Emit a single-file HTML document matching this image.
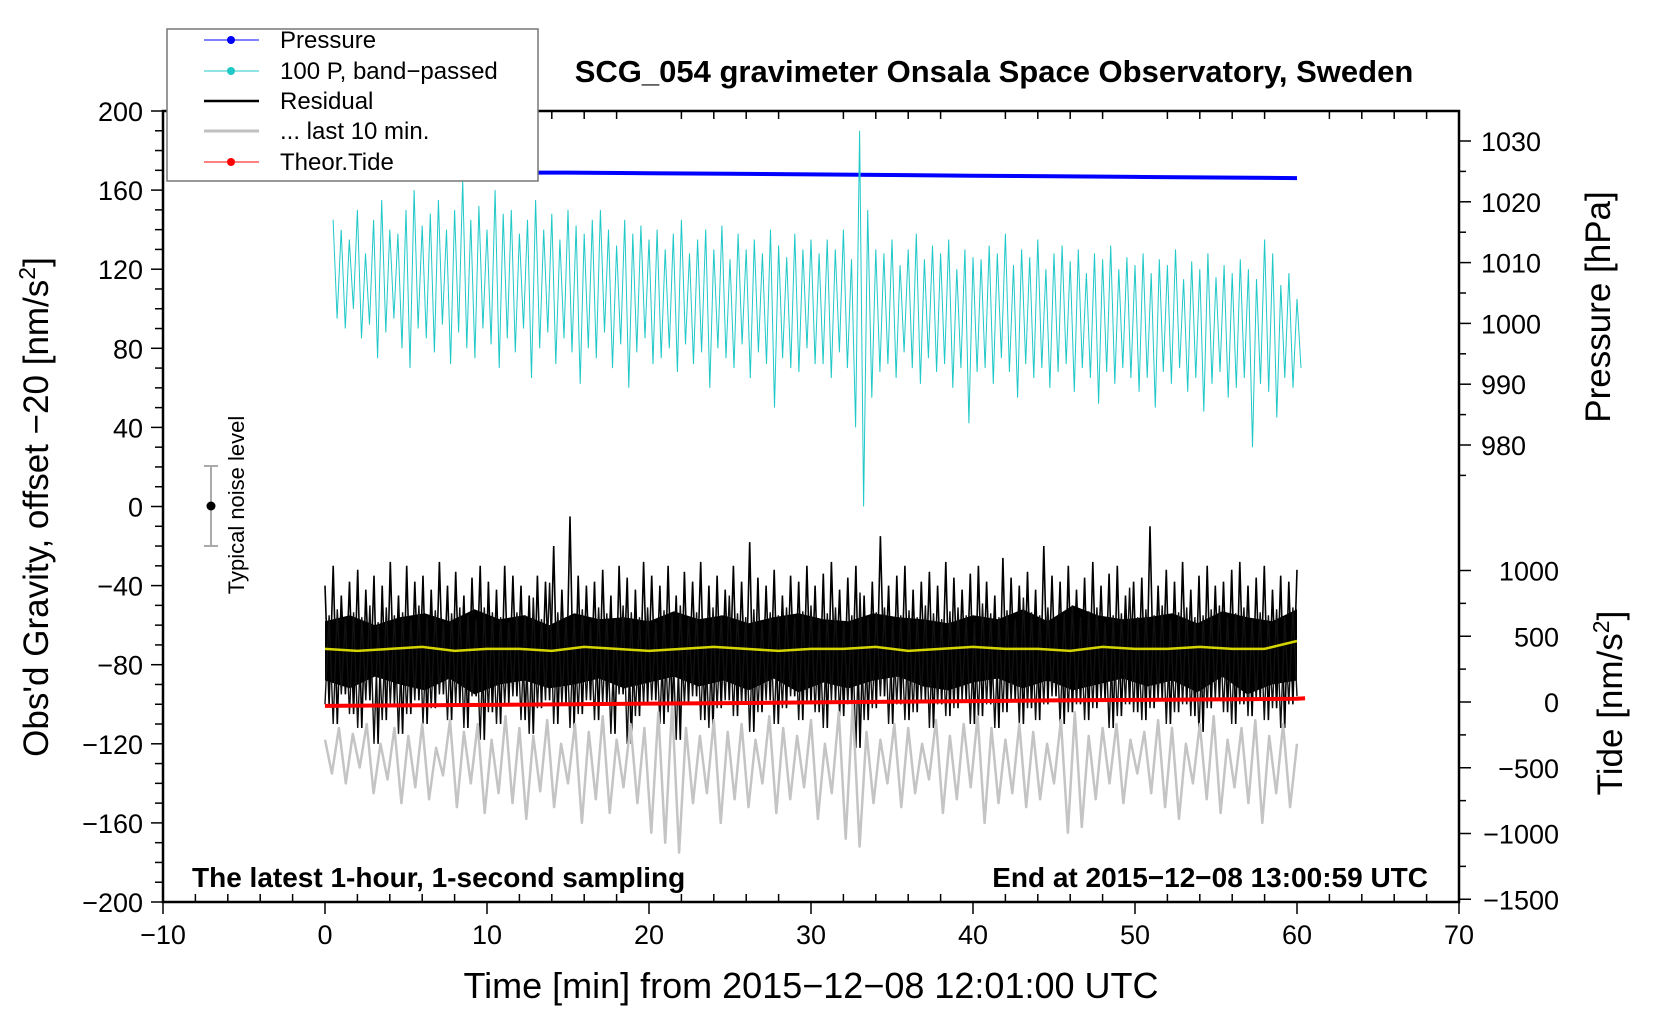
<!DOCTYPE html>
<html><head><meta charset="utf-8">
<style>
html,body{margin:0;padding:0;background:#fff;}
svg{display:block;font-family:"Liberation Sans",sans-serif;}
</style></head>
<body>
<svg id="chart" width="1660" height="1020" viewBox="0 0 1660 1020">
</svg>
<script>
// ---- data ----
const xTicks = [-10,0,10,20,30,40,50,60,70];
const yTicks = [-200,-160,-120,-80,-40,0,40,80,120,160,200];
const pTicks = [980,990,1000,1010,1020,1030];
const tideTicks = [-1500,-1000,-500,0,500,1000];
const pressureTimes = [0,5,10,15,20,25,30,35,40,45,50,55,60];
const pressureVals = [1025.0,1024.9,1024.8,1024.8,1024.7,1024.6,1024.5,1024.4,1024.3,1024.2,1024.1,1024.0,1023.9];
const cyanHi = [145,140,135,150,128,145,155,140,138,150,160,142,148,155,140,150,165,145,152,140,
160,148,150,138,145,155,140,148,135,150,142,138,145,150,140,132,145,138,142,135,
140,130,138,145,128,135,140,130,142,125,138,130,135,128,140,132,126,138,130,135,
128,135,130,140,125,190,150,130,128,135,122,130,138,125,132,128,135,120,130,126,
125,132,128,138,122,130,126,135,120,128,132,124,130,118,128,125,132,120,126,122,
128,118,125,122,130,115,124,120,128,116,122,118,125,120,115,135,128,112,118,105];
const cyanLo = [95,90,100,85,92,75,88,95,80,70,90,85,78,92,72,88,80,75,90,82,
70,85,78,90,65,80,88,72,85,78,62,80,75,88,70,82,60,78,85,72,
75,80,68,82,72,78,60,80,75,70,82,65,78,72,50,75,70,68,80,72,
72,65,78,70,40,0,55,68,72,65,78,70,62,75,68,72,60,70,42,68,
70,62,75,68,55,72,65,70,60,68,72,58,70,65,52,68,62,70,65,58,
65,50,68,62,70,58,65,48,62,68,55,60,65,30,62,58,45,65,60,70];
const blackHi = [-40,-30,-45,-38,-32,-42,-35,-40,-28,-45,-30,-38,-35,-42,-28,-40,-33,-45,-36,-30,
-38,-42,-30,-35,-40,-45,-35,-38,-20,-42,-5,-35,-40,-38,-32,-45,-30,-36,-42,-28,
-35,-40,-30,-45,-33,-38,-28,-40,-35,-42,-30,-38,-18,-36,-40,-32,-45,-35,-38,-30,
-40,-34,-28,-42,-36,-30,-45,-38,-15,-40,-35,-30,-42,-38,-33,-40,-28,-36,-42,-34,
-30,-38,-45,-26,-36,-40,-33,-42,-20,-35,-38,-30,-42,-36,-28,-40,-34,-30,-45,-38,
-36,-10,-40,-32,-38,-28,-42,-35,-30,-40,-38,-32,-28,-40,-36,-30,-42,-35,-38,-32];
const blackLo = [-100,-110,-95,-105,-112,-98,-120,-108,-100,-115,-105,-98,-110,-102,-95,-108,-100,-112,-96,-118,
-104,-110,-100,-96,-108,-115,-102,-98,-110,-100,-112,-105,-98,-108,-100,-115,-95,-120,-106,-100,
-98,-110,-104,-118,-100,-96,-108,-112,-102,-98,-106,-100,-114,-104,-98,-110,-102,-96,-108,-100,
-104,-112,-98,-106,-100,-122,-108,-102,-96,-110,-100,-108,-104,-98,-112,-100,-106,-102,-98,-110,
-106,-100,-112,-104,-98,-110,-102,-108,-100,-96,-110,-104,-100,-108,-102,-98,-112,-106,-100,-104,
-108,-102,-98,-110,-104,-100,-106,-114,-102,-98,-104,-110,-100,-106,-98,-108,-102,-112,-100,-96];
const blackCoreHi = [-58,-55,-60,-56,-54,-58,-52,-57,-55,-60,-54,-57,-56,-58,-53,-57,-55,-59,-56,-54,
-57,-58,-54,-56,-57,-59,-55,-57,-52,-58,-50,-55,-57,-56,-54,-59,-53,-56,-58,-52];
const blackCoreLo = [-88,-92,-86,-90,-93,-87,-95,-90,-88,-92,-90,-87,-92,-89,-86,-91,-88,-93,-87,-94,
-89,-92,-88,-86,-91,-93,-89,-87,-92,-88,-93,-90,-87,-91,-88,-94,-86,-95,-90,-88];
const yellowVals = [-72,-73,-72,-71,-73,-72,-72,-73,-71,-72,-73,-72,-71,-72,-73,-72,-72,-71,-73,-72,
-71,-72,-72,-73,-71,-72,-72,-71,-72,-72,-68];
const tideTimes = [0,5,10,15,20,25,30,35,40,45,50,55,60,60.5];
const tideVals = [-30,-26,-22,-17,-12,-8,-3,2,7,12,16,20,24,28];
const greyVals = [-118,-135,-112,-140,-115,-132,-110,-145,-120,-138,-112,-150,-116,-142,-110,-148,-122,-136,-108,-152,
-114,-140,-110,-155,-118,-145,-106,-150,-112,-158,-116,-144,-108,-152,-120,-140,-110,-160,-114,-148,
-106,-155,-118,-142,-110,-150,-112,-165,-104,-170,-100,-175,-112,-150,-116,-145,-108,-160,-114,-148,
-110,-152,-118,-140,-106,-155,-112,-148,-116,-142,-108,-158,-120,-145,-104,-168,-100,-172,-114,-150,
-118,-140,-110,-152,-112,-145,-120,-138,-108,-155,-116,-148,-110,-142,-106,-160,-112,-150,-118,-145,
-110,-152,-114,-148,-120,-140,-108,-165,-104,-162,-116,-148,-112,-140,-110,-150,-118,-135,-114,-145,
-108,-152,-112,-158,-120,-140,-110,-148,-106,-155,-118,-142,-112,-150,-108,-160,-116,-145,-110,-152,-120];

// ---- axes ----
const L=163,R=1459,T=111,B=902;
const X=t=>L+(t+10)/80*(R-L);
const Y=v=>T+(200-v)/400*(B-T);
const YP=p=>141+(1030-p)*6.08;
const YT=g=>702-g*0.1315;
const NS='http://www.w3.org/2000/svg';
const svg=document.getElementById('chart');
function mk(tag,attrs,parent){const e=document.createElementNS(NS,tag);for(const k in attrs)e.setAttribute(k,attrs[k]);(parent||svg).appendChild(e);return e;}
function txt(s,attrs,parent){const e=mk('text',attrs,parent);e.textContent=s;return e;}
function pl(pts){return pts.map(p=>p[0].toFixed(1)+','+p[1].toFixed(1)).join(' ');}

const dataG=mk('g',{});



// pressure
const pp=pressureTimes.map((t,i)=>[X(t),YP(pressureVals[i])]);
const pLine=mk('polyline',{points:pl(pp),fill:'none',stroke:'#0000ff','stroke-width':4},dataG);



// cyan band-passed
const cp=[];const nC=cyanHi.length;
for(let i=0;i<nC;i++){const t=0.5+i*(59.5/(nC-1));cp.push([X(t),Y(cyanHi[i])]);cp.push([X(t+0.25),Y(cyanLo[i])]);}
const cLine=mk('polyline',{points:pl(cp),fill:'none',stroke:'#20c8c8','stroke-width':1},dataG);



// residual black
const nB=blackHi.length;
const envTop=[],envBot=[];
for(let i=0;i<nB;i++){const t=i*(60/(nB-1));envTop.push([X(t),Y(blackHi[i])]);envBot.push([X(t),Y(blackLo[i])]);}
const nK=blackCoreHi.length;const ct=[],cb=[];
for(let i=0;i<nK;i++){const t=i*(60/(nK-1));ct.push([X(t),Y(blackCoreHi[i])]);cb.push([X(t),Y(blackCoreLo[i])]);}
const core=mk('polygon',{points:pl(ct.concat(cb.slice().reverse())),fill:'#000'},dataG);


const zz=[];for(let i=0;i<nB;i++){zz.push(envTop[i]);if(i<nB-1){zz.push([(envTop[i][0]+envTop[i+1][0])/2,envBot[i][1]]);}}
const bLine=mk('polyline',{points:pl(zz),fill:'none',stroke:'#000','stroke-width':1.6},dataG);


const zz2=[];for(let i=0;i<nB;i++){zz2.push(envBot[i]);if(i<nB-1){zz2.push([(envTop[i][0]+envTop[i+1][0])/2,envTop[(i+3)%nB][1]*0.5+Y(-72)*0.5]);}}
const bLine2=mk('polyline',{points:pl(zz2),fill:'none',stroke:'#111','stroke-width':1.4},dataG);



// grey last 10 min
const gp=greyVals.map((v,i)=>[X(i*60/(greyVals.length-1)),Y(v)]);
const gLine=mk('polyline',{points:pl(gp),fill:'none',stroke:'#c4c4c4','stroke-width':2.5,'stroke-linejoin':'round'},dataG);



// yellow smoothed
const yp=yellowVals.map((v,i)=>[X(i*60/(yellowVals.length-1)),Y(v)]);
const yLine=mk('polyline',{points:pl(yp),fill:'none',stroke:'#d4d400','stroke-width':2.5},dataG);



// tide
const tp=tideTimes.map((t,i)=>[X(t),YT(tideVals[i])]);
const tLine=mk('polyline',{points:pl(tp),fill:'none',stroke:'#ff0000','stroke-width':4},dataG);



// frame
const frame=mk('rect',{x:L,y:T,width:R-L,height:B-T,fill:'none',stroke:'#000','stroke-width':2.5});



// x ticks
const xAx=mk('g',{});


for(let m=-10;m<=70;m+=2){const x=X(m);const major=(m%10===0);
 mk('line',{x1:x,x2:x,y1:major?B+12:B-8,y2:B,stroke:'#000','stroke-width':1.5},xAx);
 mk('line',{x1:x,x2:x,y1:T,y2:T+(major?0:8),stroke:'#000','stroke-width':1.5},xAx);}
xTicks.forEach(v=>{const e=txt(String(v).replace('-','\u2212'),{x:X(v),y:B+42,'font-size':27,'text-anchor':'middle'},xAx);
 
 });
// y ticks
const yAx=mk('g',{});


for(let v=-200;v<=200;v+=10){const y=Y(v);const major=(v%40===0);
 mk('line',{x1:L-(major?12:8),x2:L,y1:y,y2:y,stroke:'#000','stroke-width':1.5},yAx);}
yTicks.forEach(v=>{const e=txt(String(v).replace('-','\u2212'),{x:L-20,y:Y(v)+10,'font-size':27,'text-anchor':'end'},yAx);
 
 });
// right pressure ticks
const pAx=mk('g',{});


for(let p=975;p<=1035;p+=5){const y=YP(p);if(y<T||y>B)continue;const major=(p%10===0);
 mk('line',{x1:R,x2:R+(major?12:7),y1:y,y2:y,stroke:'#000','stroke-width':1.5},pAx);}
pTicks.forEach(v=>{const e=txt(String(v),{x:R+22,y:YP(v)+10,'font-size':27},pAx);
 
 });
// tide ticks
const tAx=mk('g',{});


for(let g=-1500;g<=1000;g+=250){const y=YT(g);const major=(g%500===0);
 mk('line',{x1:R,x2:R+(major?12:7),y1:y,y2:y,stroke:'#000','stroke-width':1.5},tAx);}
tideTicks.forEach(v=>{const e=txt(String(v).replace('-','\u2212'),{x:R+100,y:YT(v)+10,'font-size':27,'text-anchor':'end'},tAx);
 
 });
</script>
<svg width="1660" height="1020" style="position:absolute;left:0;top:0">
 <g font-family="Liberation Sans, sans-serif">
  <text x="994" y="82" font-size="31" font-weight="bold" text-anchor="middle">SCG_054 gravimeter Onsala Space Observatory, Sweden</text>
  <text transform="translate(48,507) rotate(-90)" font-size="35" text-anchor="middle">Obs'd Gravity, offset −20 [nm/s<tspan baseline-shift="super" font-size="23">2</tspan>]</text>
  <text transform="translate(1610,307) rotate(-90)" font-size="35" text-anchor="middle">Pressure [hPa]</text>
  <text transform="translate(1622,703) rotate(-90)" font-size="35" text-anchor="middle">Tide [nm/s<tspan baseline-shift="super" font-size="23">2</tspan>]</text>
  <text x="811" y="998" font-size="36" text-anchor="middle">Time [min] from 2015−12−08 12:01:00 UTC</text>
  <text x="192" y="887" font-size="28" font-weight="bold">The latest 1-hour, 1-second sampling</text>
  <text x="1428" y="887" font-size="28" font-weight="bold" text-anchor="end">End at 2015−12−08 13:00:59 UTC</text>
  <g>
   <line x1="211" x2="211" y1="466" y2="546" stroke="#aaa" stroke-width="2"/>
   <line x1="204" x2="218" y1="466" y2="466" stroke="#aaa" stroke-width="2"/>
   <line x1="204" x2="218" y1="546" y2="546" stroke="#aaa" stroke-width="2"/>
   <circle cx="211" cy="506" r="4.5" fill="#000"/>
  </g>
  <text transform="translate(244,505) rotate(-90)" font-size="22" text-anchor="middle">Typical noise level</text>
  <g>
   <rect x="167" y="29" width="371" height="152" fill="#fff" stroke="#777" stroke-width="1.5"/>
   <g><line x1="204" x2="259" y1="40" y2="40" stroke="#0000ff" stroke-width="1"/><circle cx="231" cy="40" r="4" fill="#0000ff"/><text x="280" y="48" font-size="24">Pressure</text></g>
   <g><line x1="204" x2="259" y1="71" y2="71" stroke="#20c8c8" stroke-width="1"/><circle cx="231" cy="71" r="4" fill="#20c8c8"/><text x="280" y="79" font-size="24">100 P, band−passed</text></g>
   <g><line x1="204" x2="259" y1="101" y2="101" stroke="#000" stroke-width="2.5"/><text x="280" y="109" font-size="24">Residual</text></g>
   <g><line x1="204" x2="259" y1="131" y2="131" stroke="#c0c0c0" stroke-width="3"/><text x="280" y="139" font-size="24">... last 10 min.</text></g>
   <g><line x1="204" x2="259" y1="162" y2="162" stroke="#ff0000" stroke-width="1"/><circle cx="231" cy="162" r="4" fill="#ff0000"/><text x="280" y="170" font-size="24">Theor.Tide</text></g>
  </g>
 </g>
</svg>
</body></html>
